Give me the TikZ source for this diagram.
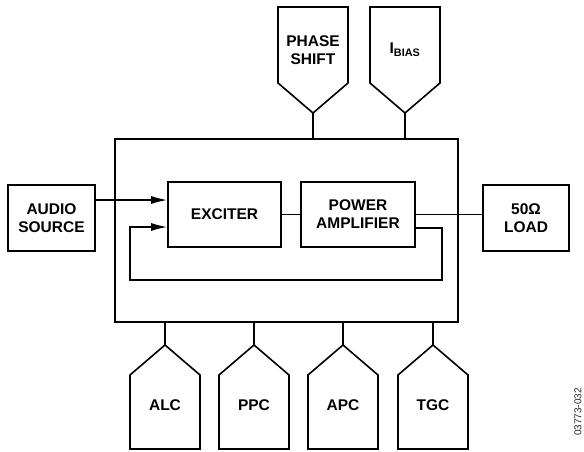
\documentclass[tikz,border=0pt]{standalone}
\usepackage{fontspec}
\setmainfont{Liberation Sans}
\usetikzlibrary{arrows.meta}
\tikzset{
  lbl/.style={align=center,inner sep=0pt,font=\fontsize{15.5}{18}\selectfont\bfseries},
  block/.style={lbl,draw,line width=1.6pt},
  pin/.style={line width=1.6pt,line join=miter},
  wire/.style={line width=1.4pt},
  sig/.style={wire,-{Latex[length=16pt,width=8pt]}}
}
\begin{document}
\begin{tikzpicture}[x=1pt,y=-1pt]
  \useasboundingbox (0,0) rectangle (584,451);
  \node[draw,line width=2.4pt,minimum width=343pt,minimum height=183pt] (chip) at (286.5,230.5) {};
  \node[block,minimum width=113pt,minimum height=65pt] (exc) at (224.5,214.5) {EXCITER};
  \node[block,minimum width=114pt,minimum height=65pt] (amp) at (358,214.5) {POWER\\AMPLIFIER};
  \node[block,minimum width=87pt,minimum height=66pt] (audio) at (51.5,218) {AUDIO\\SOURCE};
  \node[block,minimum width=86pt,minimum height=66pt] (load) at (526,218) {50Ω\\LOAD};
  % inputs on the chip
  \foreach \x/\nm/\txt in {313/phase/{PHASE\\SHIFT},405/bias/{I\textsubscript{BIAS}}}{
    \draw[pin] (\x-35,7) -- (\x+35,7) -- (\x+35,83) -- (\x,113) -- (\x-35,83) -- cycle;
    \node[lbl] (\nm) at (\x,50) {\txt};
    \coordinate (\nm-tip) at (\x,113);
    \draw[wire] (\nm-tip) -- (\nm-tip |- chip.north);
  }
  \foreach \x/\nm/\txt in {165/alc/ALC,254/ppc/PPC,343/apc/APC,433/tgc/TGC}{
    \draw[pin] (\x,345) -- (\x+35,375) -- (\x+35,449) -- (\x-35,449) -- (\x-35,375) -- cycle;
    \node[lbl] (\nm) at (\x,405) {\txt};
    \coordinate (\nm-tip) at (\x,345);
    \draw[wire] (\nm-tip |- chip.south) -- (\nm-tip);
  }
  % signal path
  \coordinate (in1) at ([yshift=14.5pt]exc.west);
  \coordinate (in2) at ([yshift=-12.5pt]exc.west);
  \coordinate (fb) at ([yshift=-13.5pt]amp.east);
  \coordinate (loop) at (130,280);
  \draw[sig] (audio.east |- in1) -- (in1);
  \draw[wire] (exc) -- (amp);
  \draw[wire] (amp.east) -- (amp.east -| load.west);
  \draw[sig] (fb) -- ++(26,0) |- (loop) |- (in2);
  \node[rotate=90,inner sep=0pt,text=black!85,font=\fontsize{10}{12}\selectfont] (figno) at (578,412) {03773-032};
\end{tikzpicture}
\end{document}
